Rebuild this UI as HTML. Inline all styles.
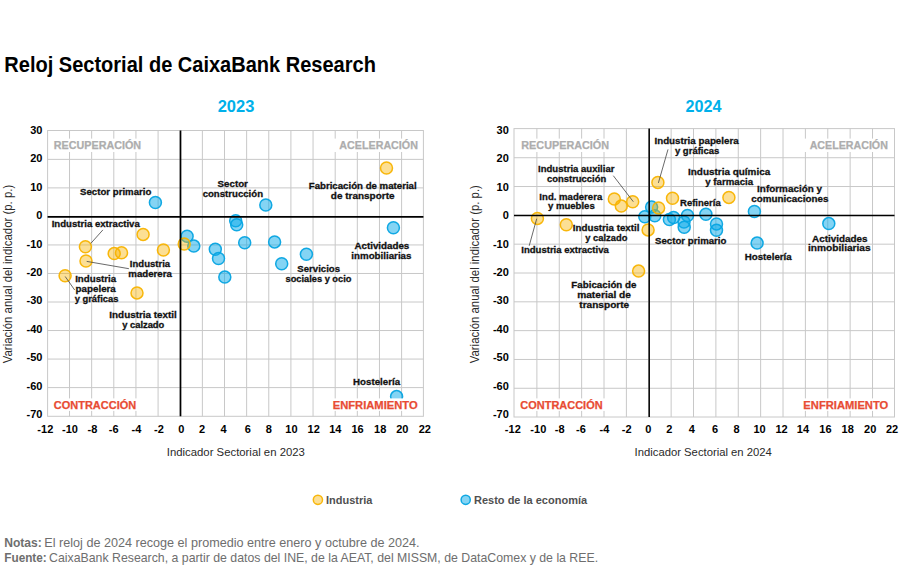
<!DOCTYPE html>
<html><head><meta charset="utf-8"><style>
html,body{margin:0;padding:0;background:#fff;width:900px;height:567px;overflow:hidden}
svg{display:block;font-family:"Liberation Sans",sans-serif}
.y{fill:#f9b300;fill-opacity:.42;stroke:#f8b300;stroke-opacity:.95;stroke-width:1.5}
.b{fill:#0aaaea;fill-opacity:.5;stroke:#06a4e2;stroke-opacity:.95;stroke-width:1.5}
</style></head><body>
<svg width="900" height="567" viewBox="0 0 900 567">
<rect width="900" height="567" fill="#fff"/>
<rect x="47.6" y="130.5" width="375.80" height="285.80" fill="none" stroke="#c8c8c8" stroke-width="1"/>
<line x1="69.53" y1="130.5" x2="69.53" y2="416.3" stroke="#c8c8c8" stroke-width="1"/>
<line x1="91.67" y1="130.5" x2="91.67" y2="416.3" stroke="#c8c8c8" stroke-width="1"/>
<line x1="113.81" y1="130.5" x2="113.81" y2="416.3" stroke="#c8c8c8" stroke-width="1"/>
<line x1="135.94" y1="130.5" x2="135.94" y2="416.3" stroke="#c8c8c8" stroke-width="1"/>
<line x1="158.08" y1="130.5" x2="158.08" y2="416.3" stroke="#c8c8c8" stroke-width="1"/>
<line x1="180.22" y1="130.5" x2="180.22" y2="416.3" stroke="#c8c8c8" stroke-width="1"/>
<line x1="202.36" y1="130.5" x2="202.36" y2="416.3" stroke="#c8c8c8" stroke-width="1"/>
<line x1="224.50" y1="130.5" x2="224.50" y2="416.3" stroke="#c8c8c8" stroke-width="1"/>
<line x1="246.63" y1="130.5" x2="246.63" y2="416.3" stroke="#c8c8c8" stroke-width="1"/>
<line x1="268.77" y1="130.5" x2="268.77" y2="416.3" stroke="#c8c8c8" stroke-width="1"/>
<line x1="290.91" y1="130.5" x2="290.91" y2="416.3" stroke="#c8c8c8" stroke-width="1"/>
<line x1="313.05" y1="130.5" x2="313.05" y2="416.3" stroke="#c8c8c8" stroke-width="1"/>
<line x1="335.19" y1="130.5" x2="335.19" y2="416.3" stroke="#c8c8c8" stroke-width="1"/>
<line x1="357.32" y1="130.5" x2="357.32" y2="416.3" stroke="#c8c8c8" stroke-width="1"/>
<line x1="379.46" y1="130.5" x2="379.46" y2="416.3" stroke="#c8c8c8" stroke-width="1"/>
<line x1="401.60" y1="130.5" x2="401.60" y2="416.3" stroke="#c8c8c8" stroke-width="1"/>
<line x1="47.6" y1="159.36" x2="423.4" y2="159.36" stroke="#c8c8c8" stroke-width="1"/>
<line x1="47.6" y1="187.89" x2="423.4" y2="187.89" stroke="#c8c8c8" stroke-width="1"/>
<line x1="47.6" y1="216.42" x2="423.4" y2="216.42" stroke="#c8c8c8" stroke-width="1"/>
<line x1="47.6" y1="244.95" x2="423.4" y2="244.95" stroke="#c8c8c8" stroke-width="1"/>
<line x1="47.6" y1="273.48" x2="423.4" y2="273.48" stroke="#c8c8c8" stroke-width="1"/>
<line x1="47.6" y1="302.01" x2="423.4" y2="302.01" stroke="#c8c8c8" stroke-width="1"/>
<line x1="47.6" y1="330.54" x2="423.4" y2="330.54" stroke="#c8c8c8" stroke-width="1"/>
<line x1="47.6" y1="359.07" x2="423.4" y2="359.07" stroke="#c8c8c8" stroke-width="1"/>
<line x1="47.6" y1="387.60" x2="423.4" y2="387.60" stroke="#c8c8c8" stroke-width="1"/>
<rect x="514.0" y="128.6" width="380.50" height="288.40" fill="none" stroke="#c8c8c8" stroke-width="1"/>
<line x1="536.88" y1="128.6" x2="536.88" y2="417.0" stroke="#c8c8c8" stroke-width="1"/>
<line x1="559.26" y1="128.6" x2="559.26" y2="417.0" stroke="#c8c8c8" stroke-width="1"/>
<line x1="581.63" y1="128.6" x2="581.63" y2="417.0" stroke="#c8c8c8" stroke-width="1"/>
<line x1="604.01" y1="128.6" x2="604.01" y2="417.0" stroke="#c8c8c8" stroke-width="1"/>
<line x1="626.38" y1="128.6" x2="626.38" y2="417.0" stroke="#c8c8c8" stroke-width="1"/>
<line x1="648.76" y1="128.6" x2="648.76" y2="417.0" stroke="#c8c8c8" stroke-width="1"/>
<line x1="671.14" y1="128.6" x2="671.14" y2="417.0" stroke="#c8c8c8" stroke-width="1"/>
<line x1="693.51" y1="128.6" x2="693.51" y2="417.0" stroke="#c8c8c8" stroke-width="1"/>
<line x1="715.89" y1="128.6" x2="715.89" y2="417.0" stroke="#c8c8c8" stroke-width="1"/>
<line x1="738.26" y1="128.6" x2="738.26" y2="417.0" stroke="#c8c8c8" stroke-width="1"/>
<line x1="760.64" y1="128.6" x2="760.64" y2="417.0" stroke="#c8c8c8" stroke-width="1"/>
<line x1="783.02" y1="128.6" x2="783.02" y2="417.0" stroke="#c8c8c8" stroke-width="1"/>
<line x1="805.39" y1="128.6" x2="805.39" y2="417.0" stroke="#c8c8c8" stroke-width="1"/>
<line x1="827.77" y1="128.6" x2="827.77" y2="417.0" stroke="#c8c8c8" stroke-width="1"/>
<line x1="850.14" y1="128.6" x2="850.14" y2="417.0" stroke="#c8c8c8" stroke-width="1"/>
<line x1="872.52" y1="128.6" x2="872.52" y2="417.0" stroke="#c8c8c8" stroke-width="1"/>
<line x1="514.0" y1="157.72" x2="894.5" y2="157.72" stroke="#c8c8c8" stroke-width="1"/>
<line x1="514.0" y1="186.54" x2="894.5" y2="186.54" stroke="#c8c8c8" stroke-width="1"/>
<line x1="514.0" y1="215.36" x2="894.5" y2="215.36" stroke="#c8c8c8" stroke-width="1"/>
<line x1="514.0" y1="244.18" x2="894.5" y2="244.18" stroke="#c8c8c8" stroke-width="1"/>
<line x1="514.0" y1="273.00" x2="894.5" y2="273.00" stroke="#c8c8c8" stroke-width="1"/>
<line x1="514.0" y1="301.82" x2="894.5" y2="301.82" stroke="#c8c8c8" stroke-width="1"/>
<line x1="514.0" y1="330.64" x2="894.5" y2="330.64" stroke="#c8c8c8" stroke-width="1"/>
<line x1="514.0" y1="359.46" x2="894.5" y2="359.46" stroke="#c8c8c8" stroke-width="1"/>
<line x1="514.0" y1="388.28" x2="894.5" y2="388.28" stroke="#c8c8c8" stroke-width="1"/>
<circle class="b" cx="155.4" cy="202.5" r="6.0"/>
<circle class="b" cx="187.1" cy="236.2" r="6.0"/>
<circle class="b" cx="193.8" cy="246.1" r="6.0"/>
<circle class="b" cx="235.7" cy="220.8" r="6.0"/>
<circle class="b" cx="236.7" cy="224.8" r="6.0"/>
<circle class="b" cx="244.7" cy="242.8" r="6.0"/>
<circle class="b" cx="215.3" cy="249.2" r="6.0"/>
<circle class="b" cx="218.5" cy="258.5" r="6.0"/>
<circle class="b" cx="224.8" cy="277.1" r="6.0"/>
<circle class="b" cx="265.8" cy="205.0" r="6.0"/>
<circle class="b" cx="274.6" cy="241.9" r="6.0"/>
<circle class="b" cx="281.7" cy="263.8" r="6.0"/>
<circle class="b" cx="306.4" cy="254.2" r="6.0"/>
<circle class="b" cx="393.4" cy="227.7" r="6.0"/>
<circle class="b" cx="396.6" cy="396.6" r="6.0"/>
<circle class="y" cx="85.4" cy="246.7" r="6.0"/>
<circle class="y" cx="86.0" cy="261.0" r="6.0"/>
<circle class="y" cx="65.1" cy="275.7" r="6.0"/>
<circle class="y" cx="114.2" cy="253.6" r="6.0"/>
<circle class="y" cx="121.5" cy="252.8" r="6.0"/>
<circle class="y" cx="143.1" cy="234.4" r="6.0"/>
<circle class="y" cx="163.4" cy="250.0" r="6.0"/>
<circle class="y" cx="184.2" cy="244.0" r="6.0"/>
<circle class="y" cx="137.0" cy="292.9" r="6.0"/>
<circle class="y" cx="386.5" cy="168.0" r="6.0"/>
<circle class="b" cx="651.6" cy="207.1" r="6.0"/>
<circle class="b" cx="644.8" cy="216.8" r="6.0"/>
<circle class="b" cx="654.8" cy="215.8" r="6.0"/>
<circle class="b" cx="669.4" cy="219.5" r="6.0"/>
<circle class="b" cx="673.6" cy="217.5" r="6.0"/>
<circle class="b" cx="687.5" cy="215.5" r="6.0"/>
<circle class="b" cx="684.0" cy="222.0" r="6.0"/>
<circle class="b" cx="684.2" cy="227.3" r="6.0"/>
<circle class="b" cx="705.9" cy="214.2" r="6.0"/>
<circle class="b" cx="716.5" cy="223.9" r="6.0"/>
<circle class="b" cx="716.5" cy="230.3" r="6.0"/>
<circle class="b" cx="754.4" cy="211.5" r="6.0"/>
<circle class="b" cx="757.1" cy="243.1" r="6.0"/>
<circle class="b" cx="828.8" cy="223.6" r="6.0"/>
<circle class="y" cx="537.4" cy="218.4" r="6.0"/>
<circle class="y" cx="566.3" cy="224.8" r="6.0"/>
<circle class="y" cx="614.3" cy="199.0" r="6.0"/>
<circle class="y" cx="621.3" cy="206.1" r="6.0"/>
<circle class="y" cx="632.7" cy="201.7" r="6.0"/>
<circle class="y" cx="657.9" cy="182.4" r="6.0"/>
<circle class="y" cx="658.6" cy="207.9" r="6.0"/>
<circle class="y" cx="672.5" cy="198.3" r="6.0"/>
<circle class="y" cx="728.9" cy="197.4" r="6.0"/>
<circle class="y" cx="648.1" cy="229.9" r="6.0"/>
<circle class="y" cx="638.6" cy="271.1" r="6.0"/>
<line x1="180.5" y1="130.5" x2="180.5" y2="416.3" stroke="#000" stroke-width="1.7"/><line x1="47.6" y1="216.9" x2="423.4" y2="216.9" stroke="#000" stroke-width="1.7"/>
<line x1="649.2" y1="128.6" x2="649.2" y2="417.0" stroke="#000" stroke-width="1.5"/><line x1="514.0" y1="215.4" x2="894.5" y2="215.4" stroke="#000" stroke-width="1.5"/>
<line x1="90.9" y1="243.3" x2="102.9" y2="229.9" stroke="#444" stroke-width="0.8"/>
<line x1="86.7" y1="261.4" x2="128.9" y2="268.7" stroke="#444" stroke-width="0.8"/>
<line x1="65.2" y1="276.5" x2="74.7" y2="290.0" stroke="#444" stroke-width="0.8"/>
<line x1="536.7" y1="218.7" x2="529.2" y2="245.8" stroke="#444" stroke-width="0.8"/>
<line x1="613.3" y1="175.7" x2="633.3" y2="201.7" stroke="#444" stroke-width="0.8"/>
<line x1="668.0" y1="149.4" x2="658.4" y2="182.9" stroke="#444" stroke-width="0.8"/>
<rect x="51.5" y="138.6" width="92.00" height="13.40" fill="#fff"/>
<rect x="333.0" y="138.6" width="87.20" height="13.40" fill="#fff"/>
<rect x="51.2" y="398.4" width="87.30" height="12.50" fill="#fff"/>
<rect x="330.4" y="398.4" width="89.80" height="12.50" fill="#fff"/>
<rect x="519.0" y="138.6" width="92.40" height="13.40" fill="#fff"/>
<rect x="803.0" y="138.6" width="87.20" height="13.40" fill="#fff"/>
<rect x="517.8" y="398.4" width="89.20" height="12.50" fill="#fff"/>
<rect x="801.1" y="398.4" width="89.70" height="12.50" fill="#fff"/>
<text transform="translate(12.30,363.25) rotate(-90)" x="0" y="0" font-size="12" fill="#2a2a2a" textLength="178.51" lengthAdjust="spacingAndGlyphs">Variación anual del indicador (p. p.)</text>
<text transform="translate(479.40,363.25) rotate(-90)" x="0" y="0" font-size="12" fill="#2a2a2a" textLength="178.11" lengthAdjust="spacingAndGlyphs">Variación anual del indicador (p. p.)</text>
<circle class="y" cx="317.9" cy="499.8" r="4.6"/>
<circle class="b" cx="465.7" cy="499.8" r="4.6"/>
<text x="4.35" y="71.70" font-size="22.5" font-weight="bold" fill="#000" textLength="371.52" lengthAdjust="spacingAndGlyphs">Reloj Sectorial de CaixaBank Research</text>
<text x="217.68" y="111.60" font-size="16.5" font-weight="bold" fill="#00b0ea" textLength="36.68" lengthAdjust="spacingAndGlyphs">2023</text>
<text x="685.49" y="111.90" font-size="16.5" font-weight="bold" fill="#00b0ea" textLength="36.00" lengthAdjust="spacingAndGlyphs">2024</text>
<text x="30.18" y="133.80" font-size="11" font-weight="bold" fill="#000">30</text>
<text x="496.58" y="133.80" font-size="11" font-weight="bold" fill="#000">30</text>
<text x="30.18" y="162.25" font-size="11" font-weight="bold" fill="#000">20</text>
<text x="496.58" y="162.25" font-size="11" font-weight="bold" fill="#000">20</text>
<text x="30.18" y="190.69" font-size="11" font-weight="bold" fill="#000">10</text>
<text x="496.58" y="190.69" font-size="11" font-weight="bold" fill="#000">10</text>
<text x="36.30" y="219.14" font-size="11" font-weight="bold" fill="#000">0</text>
<text x="502.70" y="219.14" font-size="11" font-weight="bold" fill="#000">0</text>
<text x="26.52" y="247.58" font-size="11" font-weight="bold" fill="#000">-10</text>
<text x="492.92" y="247.58" font-size="11" font-weight="bold" fill="#000">-10</text>
<text x="26.52" y="276.02" font-size="11" font-weight="bold" fill="#000">-20</text>
<text x="492.92" y="276.02" font-size="11" font-weight="bold" fill="#000">-20</text>
<text x="26.52" y="304.47" font-size="11" font-weight="bold" fill="#000">-30</text>
<text x="492.92" y="304.47" font-size="11" font-weight="bold" fill="#000">-30</text>
<text x="26.52" y="332.92" font-size="11" font-weight="bold" fill="#000">-40</text>
<text x="492.92" y="332.92" font-size="11" font-weight="bold" fill="#000">-40</text>
<text x="26.52" y="361.36" font-size="11" font-weight="bold" fill="#000">-50</text>
<text x="492.92" y="361.36" font-size="11" font-weight="bold" fill="#000">-50</text>
<text x="26.52" y="389.81" font-size="11" font-weight="bold" fill="#000">-60</text>
<text x="492.92" y="389.81" font-size="11" font-weight="bold" fill="#000">-60</text>
<text x="26.52" y="418.25" font-size="11" font-weight="bold" fill="#000">-70</text>
<text x="492.92" y="418.25" font-size="11" font-weight="bold" fill="#000">-70</text>
<text x="37.36" y="432.50" font-size="11" font-weight="bold" fill="#000">-12</text>
<text x="504.86" y="432.50" font-size="11" font-weight="bold" fill="#000">-12</text>
<text x="62.06" y="432.50" font-size="11" font-weight="bold" fill="#000">-10</text>
<text x="530.36" y="432.50" font-size="11" font-weight="bold" fill="#000">-10</text>
<text x="87.47" y="432.50" font-size="11" font-weight="bold" fill="#000">-8</text>
<text x="554.87" y="432.50" font-size="11" font-weight="bold" fill="#000">-8</text>
<text x="108.84" y="432.50" font-size="11" font-weight="bold" fill="#000">-6</text>
<text x="575.99" y="432.50" font-size="11" font-weight="bold" fill="#000">-6</text>
<text x="131.57" y="432.50" font-size="11" font-weight="bold" fill="#000">-4</text>
<text x="599.62" y="432.50" font-size="11" font-weight="bold" fill="#000">-4</text>
<text x="154.12" y="432.50" font-size="11" font-weight="bold" fill="#000">-2</text>
<text x="621.82" y="432.50" font-size="11" font-weight="bold" fill="#000">-2</text>
<text x="178.20" y="432.50" font-size="11" font-weight="bold" fill="#000">0</text>
<text x="645.25" y="432.50" font-size="11" font-weight="bold" fill="#000">0</text>
<text x="199.07" y="432.50" font-size="11" font-weight="bold" fill="#000">2</text>
<text x="666.18" y="432.50" font-size="11" font-weight="bold" fill="#000">2</text>
<text x="220.53" y="432.50" font-size="11" font-weight="bold" fill="#000">4</text>
<text x="688.67" y="432.50" font-size="11" font-weight="bold" fill="#000">4</text>
<text x="244.73" y="432.50" font-size="11" font-weight="bold" fill="#000">6</text>
<text x="712.12" y="432.50" font-size="11" font-weight="bold" fill="#000">6</text>
<text x="265.85" y="432.50" font-size="11" font-weight="bold" fill="#000">8</text>
<text x="733.45" y="432.50" font-size="11" font-weight="bold" fill="#000">8</text>
<text x="285.27" y="432.50" font-size="11" font-weight="bold" fill="#000">10</text>
<text x="753.47" y="432.50" font-size="11" font-weight="bold" fill="#000">10</text>
<text x="307.57" y="432.50" font-size="11" font-weight="bold" fill="#000">12</text>
<text x="775.47" y="432.50" font-size="11" font-weight="bold" fill="#000">12</text>
<text x="329.17" y="432.50" font-size="11" font-weight="bold" fill="#000">14</text>
<text x="796.87" y="432.50" font-size="11" font-weight="bold" fill="#000">14</text>
<text x="351.44" y="432.50" font-size="11" font-weight="bold" fill="#000">16</text>
<text x="819.34" y="432.50" font-size="11" font-weight="bold" fill="#000">16</text>
<text x="374.12" y="432.50" font-size="11" font-weight="bold" fill="#000">18</text>
<text x="841.52" y="432.50" font-size="11" font-weight="bold" fill="#000">18</text>
<text x="396.22" y="432.50" font-size="11" font-weight="bold" fill="#000">20</text>
<text x="864.12" y="432.50" font-size="11" font-weight="bold" fill="#000">20</text>
<text x="418.67" y="432.50" font-size="11" font-weight="bold" fill="#000">22</text>
<text x="885.92" y="432.50" font-size="11" font-weight="bold" fill="#000">22</text>
<text x="166.79" y="456.00" font-size="11.2" font-weight="normal" fill="#2a2a2a" textLength="138.10" lengthAdjust="spacingAndGlyphs">Indicador Sectorial en 2023</text>
<text x="634.59" y="455.80" font-size="11.2" font-weight="normal" fill="#2a2a2a" textLength="137.29" lengthAdjust="spacingAndGlyphs">Indicador Sectorial en 2024</text>
<text x="53.82" y="148.90" font-size="11" font-weight="bold" fill="#adadad" stroke="#adadad" stroke-width="0.25" textLength="87.26" lengthAdjust="spacingAndGlyphs">RECUPERACIÓN</text>
<text x="339.36" y="148.90" font-size="11" font-weight="bold" fill="#adadad" stroke="#adadad" stroke-width="0.25" textLength="78.52" lengthAdjust="spacingAndGlyphs">ACELERACIÓN</text>
<text x="53.75" y="408.90" font-size="11" font-weight="bold" fill="#e84c34" stroke="#e84c34" stroke-width="0.25" textLength="82.44" lengthAdjust="spacingAndGlyphs">CONTRACCIÓN</text>
<text x="332.69" y="408.90" font-size="11" font-weight="bold" fill="#e84c34" stroke="#e84c34" stroke-width="0.25" textLength="84.98" lengthAdjust="spacingAndGlyphs">ENFRIAMIENTO</text>
<text x="521.31" y="148.90" font-size="11" font-weight="bold" fill="#adadad" stroke="#adadad" stroke-width="0.25" textLength="87.77" lengthAdjust="spacingAndGlyphs">RECUPERACIÓN</text>
<text x="809.66" y="148.90" font-size="11" font-weight="bold" fill="#adadad" stroke="#adadad" stroke-width="0.25" textLength="78.22" lengthAdjust="spacingAndGlyphs">ACELERACIÓN</text>
<text x="520.35" y="408.90" font-size="11" font-weight="bold" fill="#e84c34" stroke="#e84c34" stroke-width="0.25" textLength="82.24" lengthAdjust="spacingAndGlyphs">CONTRACCIÓN</text>
<text x="803.39" y="408.90" font-size="11" font-weight="bold" fill="#e84c34" stroke="#e84c34" stroke-width="0.25" textLength="84.87" lengthAdjust="spacingAndGlyphs">ENFRIAMIENTO</text>
<text x="80.05" y="195.45" font-size="9.75" font-weight="bold" fill="#111" stroke="#111" stroke-width="0.3" textLength="71.30" lengthAdjust="spacingAndGlyphs">Sector primario</text>
<text x="217.55" y="186.65" font-size="9.75" font-weight="bold" fill="#111" stroke="#111" stroke-width="0.3" textLength="30.39" lengthAdjust="spacingAndGlyphs">Sector</text>
<text x="202.65" y="196.65" font-size="9.75" font-weight="bold" fill="#111" stroke="#111" stroke-width="0.3" textLength="60.39" lengthAdjust="spacingAndGlyphs">construcción</text>
<text x="308.76" y="189.05" font-size="9.75" font-weight="bold" fill="#111" stroke="#111" stroke-width="0.3" textLength="107.90" lengthAdjust="spacingAndGlyphs">Fabricación de material</text>
<text x="330.89" y="199.05" font-size="9.75" font-weight="bold" fill="#111" stroke="#111" stroke-width="0.3" textLength="63.64" lengthAdjust="spacingAndGlyphs">de transporte</text>
<text x="51.66" y="227.45" font-size="9.75" font-weight="bold" fill="#111" stroke="#111" stroke-width="0.3" textLength="88.16" lengthAdjust="spacingAndGlyphs">Industria extractiva</text>
<text x="129.86" y="267.05" font-size="9.75" font-weight="bold" fill="#111" stroke="#111" stroke-width="0.3" textLength="40.26" lengthAdjust="spacingAndGlyphs">Industria</text>
<text x="128.30" y="277.25" font-size="9.75" font-weight="bold" fill="#111" stroke="#111" stroke-width="0.3" textLength="43.62" lengthAdjust="spacingAndGlyphs">maderera</text>
<text x="75.15" y="281.85" font-size="9.75" font-weight="bold" fill="#111" stroke="#111" stroke-width="0.3" textLength="41.07" lengthAdjust="spacingAndGlyphs">Industria</text>
<text x="75.60" y="292.15" font-size="9.75" font-weight="bold" fill="#111" stroke="#111" stroke-width="0.3" textLength="40.22" lengthAdjust="spacingAndGlyphs">papelera</text>
<text x="74.65" y="302.05" font-size="9.75" font-weight="bold" fill="#111" stroke="#111" stroke-width="0.3" textLength="43.81" lengthAdjust="spacingAndGlyphs">y gráficas</text>
<text x="109.34" y="317.95" font-size="9.75" font-weight="bold" fill="#111" stroke="#111" stroke-width="0.3" textLength="67.53" lengthAdjust="spacingAndGlyphs">Industria textil</text>
<text x="122.15" y="327.65" font-size="9.75" font-weight="bold" fill="#111" stroke="#111" stroke-width="0.3" textLength="42.19" lengthAdjust="spacingAndGlyphs">y calzado</text>
<text x="297.35" y="272.25" font-size="9.75" font-weight="bold" fill="#111" stroke="#111" stroke-width="0.3" textLength="42.71" lengthAdjust="spacingAndGlyphs">Servicios</text>
<text x="285.51" y="282.25" font-size="9.75" font-weight="bold" fill="#111" stroke="#111" stroke-width="0.3" textLength="65.92" lengthAdjust="spacingAndGlyphs">sociales y ocio</text>
<text x="354.50" y="249.05" font-size="9.75" font-weight="bold" fill="#111" stroke="#111" stroke-width="0.3" textLength="54.77" lengthAdjust="spacingAndGlyphs">Actividades</text>
<text x="351.35" y="258.75" font-size="9.75" font-weight="bold" fill="#111" stroke="#111" stroke-width="0.3" textLength="60.12" lengthAdjust="spacingAndGlyphs">inmobiliarias</text>
<text x="353.05" y="385.05" font-size="9.75" font-weight="bold" fill="#111" stroke="#111" stroke-width="0.3" textLength="47.07" lengthAdjust="spacingAndGlyphs">Hostelería</text>
<text x="654.45" y="144.45" font-size="9.75" font-weight="bold" fill="#111" stroke="#111" stroke-width="0.3" textLength="84.27" lengthAdjust="spacingAndGlyphs">Industria papelera</text>
<text x="674.95" y="154.25" font-size="9.75" font-weight="bold" fill="#111" stroke="#111" stroke-width="0.3" textLength="44.41" lengthAdjust="spacingAndGlyphs">y gráficas</text>
<text x="538.06" y="171.85" font-size="9.75" font-weight="bold" fill="#111" stroke="#111" stroke-width="0.3" textLength="76.38" lengthAdjust="spacingAndGlyphs">Industria auxiliar</text>
<text x="546.96" y="181.55" font-size="9.75" font-weight="bold" fill="#111" stroke="#111" stroke-width="0.3" textLength="59.28" lengthAdjust="spacingAndGlyphs">construcción</text>
<text x="688.04" y="175.25" font-size="9.75" font-weight="bold" fill="#111" stroke="#111" stroke-width="0.3" textLength="82.18" lengthAdjust="spacingAndGlyphs">Industria química</text>
<text x="705.25" y="184.85" font-size="9.75" font-weight="bold" fill="#111" stroke="#111" stroke-width="0.3" textLength="47.87" lengthAdjust="spacingAndGlyphs">y farmacia</text>
<text x="757.14" y="192.15" font-size="9.75" font-weight="bold" fill="#111" stroke="#111" stroke-width="0.3" textLength="64.88" lengthAdjust="spacingAndGlyphs">Información y</text>
<text x="751.35" y="202.35" font-size="9.75" font-weight="bold" fill="#111" stroke="#111" stroke-width="0.3" textLength="77.03" lengthAdjust="spacingAndGlyphs">comunicaciones</text>
<text x="539.36" y="199.85" font-size="9.75" font-weight="bold" fill="#111" stroke="#111" stroke-width="0.3" textLength="62.86" lengthAdjust="spacingAndGlyphs">Ind. maderera</text>
<text x="547.95" y="209.15" font-size="9.75" font-weight="bold" fill="#111" stroke="#111" stroke-width="0.3" textLength="46.81" lengthAdjust="spacingAndGlyphs">y muebles</text>
<text x="680.07" y="205.85" font-size="9.75" font-weight="bold" fill="#111" stroke="#111" stroke-width="0.3" textLength="40.66" lengthAdjust="spacingAndGlyphs">Refinería</text>
<text x="572.85" y="231.15" font-size="9.75" font-weight="bold" fill="#111" stroke="#111" stroke-width="0.3" textLength="66.61" lengthAdjust="spacingAndGlyphs">Industria textil</text>
<text x="585.35" y="240.95" font-size="9.75" font-weight="bold" fill="#111" stroke="#111" stroke-width="0.3" textLength="41.99" lengthAdjust="spacingAndGlyphs">y calzado</text>
<text x="655.05" y="244.15" font-size="9.75" font-weight="bold" fill="#111" stroke="#111" stroke-width="0.3" textLength="71.40" lengthAdjust="spacingAndGlyphs">Sector primario</text>
<text x="521.26" y="253.25" font-size="9.75" font-weight="bold" fill="#111" stroke="#111" stroke-width="0.3" textLength="87.56" lengthAdjust="spacingAndGlyphs">Industria extractiva</text>
<text x="744.75" y="259.75" font-size="9.75" font-weight="bold" fill="#111" stroke="#111" stroke-width="0.3" textLength="46.97" lengthAdjust="spacingAndGlyphs">Hostelería</text>
<text x="812.10" y="241.85" font-size="9.75" font-weight="bold" fill="#111" stroke="#111" stroke-width="0.3" textLength="55.48" lengthAdjust="spacingAndGlyphs">Actividades</text>
<text x="808.02" y="251.45" font-size="9.75" font-weight="bold" fill="#111" stroke="#111" stroke-width="0.3" textLength="62.67" lengthAdjust="spacingAndGlyphs">inmobiliarias</text>
<text x="571.35" y="287.55" font-size="9.75" font-weight="bold" fill="#111" stroke="#111" stroke-width="0.3" textLength="65.07" lengthAdjust="spacingAndGlyphs">Fabicación de</text>
<text x="577.17" y="297.75" font-size="9.75" font-weight="bold" fill="#111" stroke="#111" stroke-width="0.3" textLength="53.76" lengthAdjust="spacingAndGlyphs">material de</text>
<text x="579.30" y="307.65" font-size="9.75" font-weight="bold" fill="#111" stroke="#111" stroke-width="0.3" textLength="49.94" lengthAdjust="spacingAndGlyphs">transporte</text>
<text x="326.00" y="503.60" font-size="11" font-weight="bold" fill="#505050" textLength="46.32" lengthAdjust="spacingAndGlyphs">Industria</text>
<text x="474.00" y="503.60" font-size="11" font-weight="bold" fill="#505050" textLength="113.12" lengthAdjust="spacingAndGlyphs">Resto de la economía</text>
<text x="4.25" y="546.70" font-size="13" font-weight="bold" fill="#6e6e6e" textLength="37.56" lengthAdjust="spacingAndGlyphs">Notas:</text>
<text x="44.31" y="546.70" font-size="13" font-weight="normal" fill="#6e6e6e" textLength="375.33" lengthAdjust="spacingAndGlyphs">El reloj de 2024 recoge el promedio entre enero y octubre de 2024.</text>
<text x="4.26" y="561.70" font-size="13" font-weight="bold" fill="#6e6e6e" textLength="42.51" lengthAdjust="spacingAndGlyphs">Fuente:</text>
<text x="49.12" y="561.70" font-size="13" font-weight="normal" fill="#6e6e6e" textLength="548.99" lengthAdjust="spacingAndGlyphs">CaixaBank Research, a partir de datos del INE, de la AEAT, del MISSM, de DataComex y de la REE.</text>
</svg>
</body></html>
